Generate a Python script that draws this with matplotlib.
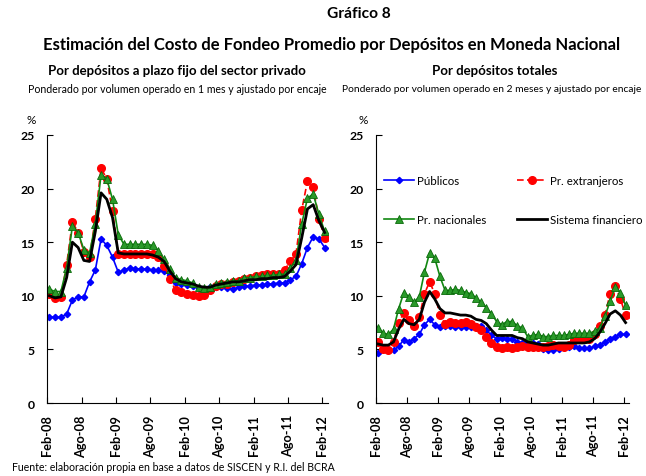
import numpy as np
import matplotlib
matplotlib.use("Agg")
import matplotlib.pyplot as plt

plt.rcParams['font.family'] = ['Lato', 'DejaVu Sans']

# meses Feb-08 .. Feb-12
meses = ["Feb-08", "Ago-08", "Feb-09", "Ago-09", "Feb-10", "Ago-10", "Feb-11", "Ago-11", "Feb-12"]

# Panel izquierdo: plazo fijo sector privado
pf_publicos = [8.0, 8.0, 8.0, 8.3, 9.6, 9.9, 9.9, 11.3, 12.4, 15.3, 14.7, 13.6, 12.2, 12.4, 12.6, 12.5,
               12.5, 12.5, 12.4, 12.4, 12.3, 11.9, 11.2, 11.1, 11.0, 10.9, 10.7, 10.6, 10.8, 10.8,
               10.8, 10.7, 10.6, 10.8, 10.9, 10.9, 11.0, 11.0, 11.1, 11.1, 11.2, 11.2, 11.5, 11.8,
               13.0, 14.5, 15.5, 15.3, 14.5]
pf_extranjeros = [10.2, 9.8, 9.9, 12.9, 16.9, 15.9, 14.1, 13.6, 17.2, 21.9, 20.9, 17.9, 13.9, 13.9, 13.9,
                  13.9, 13.9, 13.9, 13.9, 13.6, 12.8, 11.6, 10.5, 10.4, 10.2, 10.1, 10.0, 10.1, 10.5,
                  10.9, 11.1, 11.1, 11.3, 11.4, 11.6, 11.7, 11.8, 11.9, 12.0, 12.0, 12.0, 12.4, 13.2,
                  13.9, 18.0, 20.7, 20.1, 17.2, 15.4]
pf_nacionales = [10.6, 10.4, 10.4, 12.6, 16.5, 15.9, 14.3, 14.0, 16.7, 21.3, 20.9, 19.0, 15.7, 14.8, 14.8,
                 14.8, 14.8, 14.8, 14.7, 14.2, 13.4, 12.5, 11.7, 11.5, 11.4, 11.2, 10.8, 10.7, 10.8,
                 11.1, 11.2, 11.3, 11.4, 11.4, 11.7, 11.7, 11.8, 11.8, 11.9, 11.9, 12.0, 12.0, 12.6,
                 13.3, 16.7, 19.1, 19.5, 17.6, 16.0]
pf_sistema = [10.0, 9.8, 9.9, 11.7, 15.0, 14.5, 13.3, 13.2, 16.0, 19.6, 19.0, 17.3, 14.0, 13.9, 13.9,
              13.9, 13.9, 13.9, 13.8, 13.6, 13.2, 12.3, 11.6, 11.3, 11.2, 11.1, 10.9, 10.8, 10.8,
              11.0, 11.1, 11.2, 11.3, 11.3, 11.4, 11.5, 11.5, 11.6, 11.6, 11.7, 11.7, 11.8, 12.3,
              12.9, 15.4, 18.1, 18.5, 17.0, 15.9]

# Panel derecho: depósitos totales
tot_publicos = [4.7, 5.1, 5.0, 4.9, 5.3, 5.9, 5.7, 6.0, 6.4, 7.3, 7.8, 7.3, 7.1, 7.2, 7.2, 7.1, 7.1,
                7.1, 7.1, 7.2, 7.2, 6.8, 6.3, 6.0, 6.1, 6.0, 6.0, 5.7, 5.6, 5.7, 5.6, 5.5, 5.0, 4.9,
                4.9, 5.0, 5.2, 5.2, 5.3, 5.1, 5.1, 5.1, 5.3, 5.4, 5.7, 6.0, 6.2, 6.4, 6.4]
tot_extranjeros = [5.7, 5.0, 4.9, 5.7, 7.5, 8.4, 7.7, 7.2, 8.0, 10.2, 11.3, 10.2, 8.2, 7.4, 7.6, 7.5,
                   7.5, 7.6, 7.4, 7.1, 6.8, 6.2, 5.6, 5.2, 5.1, 5.2, 5.1, 5.2, 5.3, 5.2, 5.2, 5.2,
                   5.2, 5.3, 5.4, 5.3, 5.2, 5.4, 5.9, 6.0, 6.0, 6.0, 6.4, 7.2, 8.2, 10.2, 10.9, 9.7, 8.2]
tot_nacionales = [7.0, 6.5, 6.4, 6.9, 8.8, 10.3, 9.9, 9.4, 9.9, 12.2, 14.0, 13.5, 11.8, 10.5, 10.5,
                  10.6, 10.5, 10.3, 10.2, 9.8, 9.4, 8.9, 8.3, 7.6, 7.3, 7.6, 7.6, 7.2, 7.0, 6.2, 6.3,
                  6.4, 6.2, 6.2, 6.3, 6.3, 6.3, 6.4, 6.5, 6.5, 6.5, 6.5, 6.7, 7.0, 8.1, 9.5, 10.8,
                  10.3, 9.1]
tot_sistema = [5.5, 5.4, 5.4, 5.7, 6.9, 7.8, 7.4, 7.3, 7.8, 9.4, 10.4, 9.7, 8.8, 8.4, 8.4, 8.3, 8.2,
               8.2, 8.1, 7.8, 7.7, 7.4, 6.8, 6.3, 6.3, 6.3, 6.3, 6.1, 6.0, 5.7, 5.6, 5.5, 5.4, 5.4,
               5.5, 5.6, 5.6, 5.6, 5.6, 5.6, 5.6, 5.7, 6.0, 6.6, 7.4, 8.3, 8.6, 8.2, 7.5]

x = np.arange(len(pf_publicos))

fig = plt.figure(figsize=(6.46, 4.77), dpi=100)
ax1 = fig.add_axes([0.073, 0.153, 0.434, 0.562])
ax2 = fig.add_axes([0.582, 0.153, 0.392, 0.562])


def panel(ax, pub, ext, nac, sis, xmax, pct_x):
    l1, = ax.plot(x, pub, color='#0000ff', lw=1.2, marker='D', ms=3.2, label='Públicos')
    l2, = ax.plot(x, ext, color='#ff0000', lw=1.2, ls=(0, (4, 2)), marker='o', ms=5.5,
                  label='Pr. extranjeros')
    l3, = ax.plot(x, nac, color='#118811', lw=1.2, marker='^', ms=5.5, mfc='#2a9a2a',
                  mec='#0a6a0a', mew=0.6, label='Pr. nacionales')
    l4, = ax.plot(x, sis, color='black', lw=2, label='Sistema financiero')
    ax.set_ylim(0, 25)
    ax.set_xlim(-0.4, xmax)
    ax.set_yticks([0, 5, 10, 15, 20, 25])
    ax.set_xticks(np.arange(0, 49, 6) - 0.4)
    ax.set_xticklabels(meses, rotation=90, fontweight='bold', fontsize=9.2)
    for lab in ax.get_yticklabels():
        lab.set_fontweight('bold')
        lab.set_fontsize(8.8)
    ax.spines['top'].set_visible(False)
    ax.spines['right'].set_visible(False)
    ax.tick_params(direction='in', length=4, width=0.8)
    ax.tick_params(axis='y', pad=9)
    ax.tick_params(axis='x', pad=8)
    ax.text(pct_x, 1.045, '%', transform=ax.transAxes, fontsize=8.5, ha='center')
    return [l1, l2, l3, l4]


panel(ax1, pf_publicos, pf_extranjeros, pf_nacionales, pf_sistema, 48.5, -0.058)
h = panel(ax2, tot_publicos, tot_extranjeros, tot_nacionales, tot_sistema, 48.7, -0.05)

ax2.legend([h[0], h[2], h[1], h[3]], [h[0].get_label(), h[2].get_label(), h[1].get_label(), h[3].get_label()],
           ncol=2, frameon=False, loc='upper left', bbox_to_anchor=(-0.01, 0.89),
           fontsize=8.3, labelspacing=2.45, columnspacing=2.6, handlelength=2.6, handletextpad=0.3)

fig.text(0.556, 0.97, 'Gráfico 8', ha='center', va='center', fontsize=11.2, fontweight='bold')
fig.text(0.514, 0.905, 'Estimación del Costo de Fondeo Promedio por Depósitos en Moneda Nacional',
         ha='center', va='center', fontsize=12, fontweight='bold')
fig.text(0.274, 0.851, 'Por depósitos a plazo fijo del sector privado', ha='center', va='center',
         fontsize=9.5, fontweight='bold')
fig.text(0.274, 0.813, 'Ponderado por volumen operado en 1 mes y ajustado por encaje', ha='center',
         va='center', fontsize=7.6)
fig.text(0.765, 0.851, 'Por depósitos totales', ha='center', va='center', fontsize=9.5, fontweight='bold')
fig.text(0.529, 0.813, 'Ponderado por volumen operado en 2 meses y ajustado por encaje', ha='left',
         va='center', fontsize=7.35)
fig.text(0.019, 0.019, 'Fuente: elaboración propia en base a datos de SISCEN y R.I. del BCRA',
         ha='left', va='center', fontsize=7.6)

fig.savefig('out.png', dpi=100)
